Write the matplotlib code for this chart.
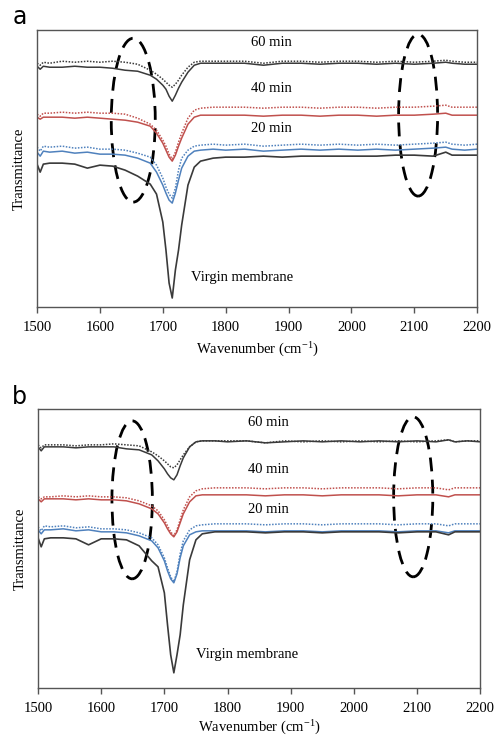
import matplotlib
matplotlib.use("Agg")
import matplotlib.pyplot as plt
from matplotlib.patches import Ellipse

plt.rcParams["font.family"] = ["Liberation Serif", "DejaVu Serif"]
plt.rcParams["mathtext.fontset"] = "custom"
plt.rcParams["mathtext.rm"] = "Liberation Serif"

WAVENUMBER = [1500, 1505, 1510, 1520, 1540, 1560, 1580, 1600, 1620, 1640,
              1660, 1680, 1690, 1700, 1705, 1710, 1715, 1720, 1725, 1730,
              1740, 1750, 1760, 1780, 1800, 1830, 1860, 1890, 1920, 1950,
              1980, 2010, 2040, 2070, 2100, 2130, 2150, 2160, 2180, 2200]

# panel a (arbitrary transmittance units, spectra offset)
a_60_dot = [244, 242, 245, 244, 246, 245, 246, 245, 246, 245, 243, 237, 233, 228, 225, 222, 220, 223, 227, 232,
            240, 245, 246, 246, 246, 246, 244, 246, 246, 245, 246, 246, 245, 246, 245, 246, 247, 246, 245, 245]
a_60_sol = [241, 238, 241, 240, 240, 241, 240, 240, 239, 237, 236, 232, 228, 222, 218, 211, 206, 212, 219, 225,
            235, 242, 244, 244, 244, 244, 242, 244, 244, 243, 244, 244, 243, 244, 243, 244, 245, 244, 243, 243]
a_40_dot = [193, 191, 194, 194, 195, 194, 195, 194, 194, 193, 189, 183, 177, 167, 161, 153, 148, 155, 165, 174,
            189, 197, 199, 200, 200, 200, 199, 200, 200, 199, 200, 200, 199, 200, 200, 201, 202, 200, 200, 200]
a_40_sol = [190, 188, 190, 190, 190, 189, 190, 189, 188, 187, 185, 181, 174, 164, 157, 150, 146, 152, 161, 169,
            183, 190, 192, 192, 192, 192, 191, 192, 192, 191, 192, 192, 191, 192, 192, 193, 194, 192, 192, 192]
a_20_dot = [160, 156, 161, 160, 161, 159, 160, 158, 158, 157, 154, 150, 142, 129, 120, 113, 109, 119, 137, 149,
            157, 161, 162, 163, 162, 163, 161, 162, 163, 162, 163, 162, 163, 162, 163, 164, 165, 163, 162, 163]
a_20_sol = [155, 151, 156, 155, 156, 154, 155, 153, 153, 152, 149, 144, 135, 122, 114, 107, 104, 114, 127, 139,
            151, 156, 157, 158, 157, 158, 156, 157, 158, 157, 158, 157, 158, 157, 158, 159, 160, 158, 157, 158]
a_virgin = [143, 135, 143, 144, 144, 143, 139, 142, 141, 137, 131, 123, 113, 85, 57, 24, 9, 37, 57, 82,
            122, 140, 146, 149, 150, 150, 151, 150, 151, 151, 151, 151, 151, 152, 152, 151, 155, 152, 152, 152]

# panel b
b_60_dot = [243, 240, 243, 243, 243, 242, 243, 243, 244, 243, 242, 236, 232, 227, 224, 221, 220, 223, 228, 233,
            241, 246, 247, 247, 247, 247, 245, 247, 246, 247, 246, 247, 246, 247, 246, 247, 248, 246, 247, 247]
b_60_sol = [241, 237, 241, 241, 241, 240, 241, 241, 241, 239, 238, 233, 227, 219, 214, 210, 208, 213, 222, 230,
            241, 246, 247, 247, 246, 247, 245, 246, 247, 246, 247, 246, 247, 246, 247, 246, 248, 246, 247, 246]
b_40_dot = [191, 189, 191, 191, 192, 191, 192, 191, 191, 190, 187, 182, 177, 168, 162, 156, 152, 158, 168, 178,
            191, 197, 199, 200, 200, 200, 199, 200, 200, 199, 200, 200, 200, 199, 200, 200, 198, 200, 200, 200]
b_40_sol = [189, 186, 189, 189, 189, 188, 189, 188, 188, 187, 184, 179, 174, 165, 159, 154, 151, 156, 165, 174,
            186, 192, 193, 193, 193, 193, 192, 193, 193, 192, 193, 193, 193, 192, 193, 193, 191, 193, 193, 193]
b_20_dot = [161, 157, 162, 161, 162, 160, 161, 159, 159, 158, 155, 150, 143, 130, 120, 111, 106, 116, 134, 147,
            158, 162, 163, 164, 164, 164, 163, 164, 164, 163, 164, 164, 164, 163, 164, 164, 162, 164, 164, 164]
b_20_sol = [158, 154, 158, 158, 159, 157, 158, 156, 156, 155, 152, 147, 140, 127, 117, 109, 105, 114, 130, 142,
            153, 156, 157, 157, 157, 157, 156, 157, 157, 156, 157, 157, 157, 156, 157, 157, 155, 157, 157, 157]
b_virgin = [150, 141, 149, 150, 150, 149, 143, 149, 149, 148, 142, 127, 121, 95, 63, 33, 15, 33, 53, 83,
            128, 148, 154, 156, 156, 156, 155, 156, 156, 155, 156, 156, 156, 155, 156, 156, 153, 156, 156, 156]

LABELS = ["60 min", "40 min", "20 min", "Virgin membrane"]
BLACK = "#3a3a3a"
RED = "#c0504d"
BLUE = "#4f81bd"

panels = [
    {"letter": "a", "rect": [0.075, 0.584, 0.891, 0.375], "ymax": 277,
     "series": [(a_60_dot, a_60_sol, BLACK), (a_40_dot, a_40_sol, RED), (a_20_dot, a_20_sol, BLUE)],
     "virgin": a_virgin,
     "label_pos": [(1840, 265), (1840, 219), (1840, 179), (1745, 30)],
     "ellipses": [(1653, 187, 70, 164), (2106, 192, 62, 162)],
     "letter_y": 0.993, "xlabelpad": 5},
    {"letter": "b", "rect": [0.077, 0.068, 0.895, 0.378], "ymax": 279,
     "series": [(b_60_dot, b_60_sol, BLACK), (b_40_dot, b_40_sol, RED), (b_20_dot, b_20_sol, BLUE)],
     "virgin": b_virgin,
     "label_pos": [(1833, 265), (1833, 218), (1833, 178), (1750, 33)],
     "ellipses": [(1649, 188, 64, 158), (2094, 191, 62, 160)],
     "letter_y": 0.478, "xlabelpad": 3},
]

fig = plt.figure(figsize=(4.94, 7.38), dpi=100)

for p in panels:
    ax = fig.add_axes(p["rect"])
    for dot, sol, c in p["series"]:
        ax.plot(WAVENUMBER, dot, color=c, lw=1.1, ls=(0, (1, 1)))
        ax.plot(WAVENUMBER, sol, color=c, lw=1.1)
    ax.plot(WAVENUMBER, p["virgin"], color=BLACK, lw=1.2)

    for (x, y), t in zip(p["label_pos"], LABELS):
        ax.text(x, y, t, fontsize=10.5, va="center", ha="left")

    for cx, cy, w, h in p["ellipses"]:
        ax.add_patch(Ellipse((cx, cy), w, h, fill=False, ec="black", lw=2,
                             ls=(0, (5, 3))))

    ax.set_xlim(1500, 2200)
    ax.set_ylim(0, p["ymax"])
    ax.set_xticks(range(1500, 2201, 100))
    ax.set_yticks([])
    ax.tick_params(axis="x", direction="out", length=4, width=1, colors="#555555",
                   labelcolor="black", labelsize=10.5, pad=6)
    for s in ax.spines.values():
        s.set_color("#555555")
        s.set_linewidth(1)
    ax.set_xlabel("Wavenumber (cm$\\mathregular{^{-1}}$)", fontsize=10.5,
                  labelpad=p["xlabelpad"])
    ax.set_ylabel("Transmittance", fontsize=10.5, labelpad=8)

    fig.text(0.025, p["letter_y"], p["letter"], fontsize=17,
             family="DejaVu Sans", va="top", ha="left")

fig.savefig("out.png", dpi=100)
